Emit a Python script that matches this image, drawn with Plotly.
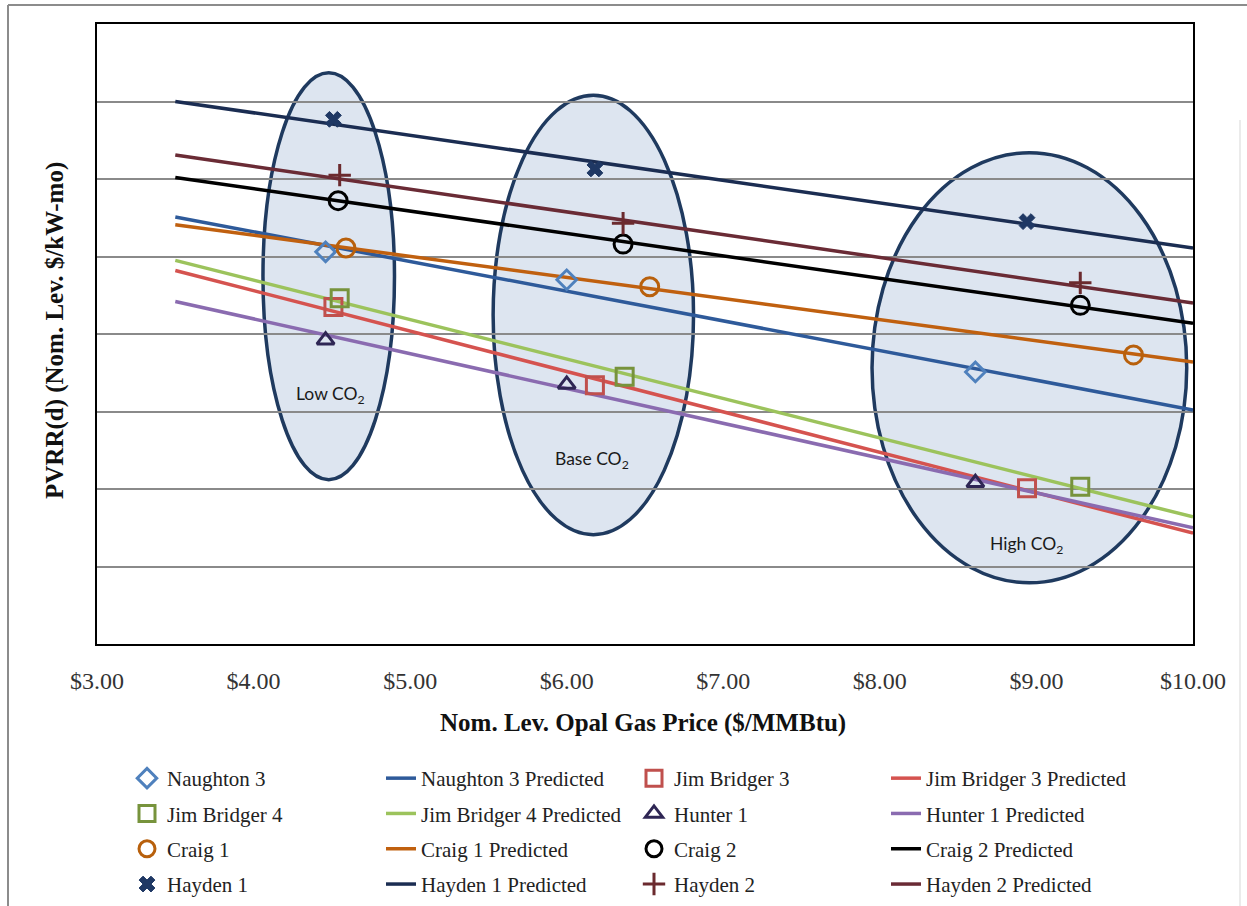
import plotly.graph_objects as go

W, H = 1247, 906
PL, PR, PT, PB = 97, 1193, 24, 644  # plot area in px

# ---------------- data ----------------
x_ticks = [3, 4, 5, 6, 7, 8, 9, 10]
x_ticktext = ["$3.00", "$4.00", "$5.00", "$6.00", "$7.00", "$8.00", "$9.00", "$10.00"]

pred_x = [3.5, 10.0]
pred_naughton3 = [5.51, 3.02]
pred_jb3 = [4.82, 1.43]
pred_jb4 = [4.95, 1.64]
pred_hunter1 = [4.42, 1.50]
pred_craig1 = [5.41, 3.64]
pred_craig2 = [6.02, 4.14]
pred_hayden1 = [7.00, 5.11]
pred_hayden2 = [6.31, 4.40]

obs_naughton3_x = [4.46, 6.00, 8.61]
obs_naughton3_y = [5.06, 4.70, 3.51]
obs_jb3_x = [4.51, 6.18, 8.94]
obs_jb3_y = [4.35, 3.34, 2.01]
obs_jb4_x = [4.55, 6.37, 9.28]
obs_jb4_y = [4.46, 3.45, 2.03]
obs_hunter1_x = [4.46, 6.00, 8.61]
obs_hunter1_y = [3.92, 3.35, 2.08]
obs_craig1_x = [4.59, 6.53, 9.62]
obs_craig1_y = [5.11, 4.61, 3.73]
obs_craig2_x = [4.54, 6.36, 9.28]
obs_craig2_y = [5.72, 5.16, 4.37]
obs_hayden1_x = [4.51, 6.18, 8.94]
obs_hayden1_y = [6.77, 6.13, 5.45]
obs_hayden2_x = [4.55, 6.36, 9.28]
obs_hayden2_y = [6.05, 5.43, 4.66]

scenario_labels = ["Low CO<sub>2</sub>", "Base CO<sub>2</sub>", "High CO<sub>2</sub>"]
scenario_x0 = [4.06, 5.53, 7.95]
scenario_x1 = [4.90, 6.81, 9.96]
scenario_y0 = [2.12, 1.41, 0.79]
scenario_y1 = [7.37, 7.08, 6.34]
scenario_label_x = [4.49, 6.161, 8.939]
scenario_label_y = [3.21, 2.37, 1.28]

# ---------------- helpers ----------------
def px_x(p):
    return (p - PL) / (PR - PL)

def px_y(p):
    return (PB - p) / (PB - PT)

SERIF = "Liberation Serif"

fig = go.Figure()

def add_line(name, y, color, legend):
    fig.add_trace(go.Scatter(
        x=pred_x, y=y, mode="lines", name=name,
        line=dict(color=color, width=3.5),
        legend=legend, legendgroup=name, showlegend=True))

def add_markers(name, x, y, symbol, color, size, legend, lw=3):
    fig.add_trace(go.Scatter(
        x=x, y=y, mode="markers", name=name,
        marker=dict(symbol=symbol, size=size, color=color,
                    line=dict(color=color, width=lw)),
        legend=legend, legendgroup=name, showlegend=True))

# lines first (drawn underneath markers)
add_line("Naughton 3 Predicted", pred_naughton3, "#2e5a9a", "legend2")
add_line("Jim Bridger 4 Predicted", pred_jb4, "#9cc35c", "legend2")
add_line("Craig 1 Predicted", pred_craig1, "#c0600f", "legend2")
add_line("Hayden 1 Predicted", pred_hayden1, "#1b2d52", "legend2")
add_line("Jim Bridger 3 Predicted", pred_jb3, "#d5534f", "legend4")
add_line("Hunter 1 Predicted", pred_hunter1, "#8a6bb0", "legend4")
add_line("Craig 2 Predicted", pred_craig2, "#000000", "legend4")
add_line("Hayden 2 Predicted", pred_hayden2, "#6a2b35", "legend4")

add_markers("Jim Bridger 3", obs_jb3_x, obs_jb3_y, "square-open", "#c0504d", 17, "legend3")
add_markers("Naughton 3", obs_naughton3_x, obs_naughton3_y, "diamond-open", "#4f81bd", 15, "legend")
add_markers("Jim Bridger 4", obs_jb4_x, obs_jb4_y, "square-open", "#77933c", 17, "legend")
add_markers("Craig 1", obs_craig1_x, obs_craig1_y, "circle-open", "#b8600c", 18, "legend")
add_markers("Hayden 1", obs_hayden1_x, obs_hayden1_y, "x", "#1f3864", 14, "legend", lw=1)
add_markers("Hunter 1", obs_hunter1_x, obs_hunter1_y, "triangle-up-open", "#2e2654", 15, "legend3")
add_markers("Craig 2", obs_craig2_x, obs_craig2_y, "circle-open", "#000000", 18, "legend3")
add_markers("Hayden 2", obs_hayden2_x, obs_hayden2_y, "cross-thin-open", "#6b2a2e", 16, "legend3")

# ---------------- ellipses & labels ----------------
shapes = []
for i in range(len(scenario_labels)):
    shapes.append(dict(type="circle", xref="x", yref="y", layer="below",
                       x0=scenario_x0[i], x1=scenario_x1[i],
                       y0=scenario_y0[i], y1=scenario_y1[i],
                       fillcolor="#dde5f0", line=dict(color="#1f3a5f", width=3.5)))

# outer frame lines
shapes.append(dict(type="line", xref="paper", yref="paper",
                   x0=px_x(8), x1=px_x(1247), y0=px_y(5), y1=px_y(5),
                   line=dict(color="#8c8c8c", width=2)))
shapes.append(dict(type="line", xref="paper", yref="paper",
                   x0=px_x(8), x1=px_x(8), y0=px_y(5), y1=px_y(906),
                   line=dict(color="#8c8c8c", width=2)))
shapes.append(dict(type="line", xref="paper", yref="paper",
                   x0=px_x(1240), x1=px_x(1240), y0=px_y(120), y1=px_y(906),
                   line=dict(color="#e4e4e4", width=1.5)))

annotations = []
for i in range(len(scenario_labels)):
    annotations.append(dict(x=scenario_label_x[i], y=scenario_label_y[i], xref="x", yref="y",
                            xanchor="center", yanchor="middle",
                            text=scenario_labels[i], showarrow=False,
                            font=dict(family="Lato", size=17.5, color="#1a1a1a")))

annotations.append(dict(x=px_x(643), y=px_y(723), xref="paper", yref="paper",
                        xanchor="center", yanchor="middle",
                        text="<b>Nom. Lev. Opal Gas Price ($/MMBtu)</b>", showarrow=False,
                        font=dict(family=SERIF, size=25, color="#111111")))
annotations.append(dict(x=px_x(55), y=px_y(331), xref="paper", yref="paper",
                        xanchor="center", yanchor="middle",
                        text="<b>PVRR(d) (Nom. Lev. $/kW-mo)</b>", showarrow=False, textangle=-90,
                        font=dict(family=SERIF, size=25, color="#111111")))

legend_common = dict(orientation="v", xref="container", yref="container",
                     xanchor="left", yanchor="top", bgcolor="rgba(0,0,0,0)",
                     borderwidth=0, tracegroupgap=5,
                     font=dict(family=SERIF, size=21, color="#222222"))
leg_y = 1 - 758 / H

fig.update_layout(
    width=W, height=H,
    margin=dict(l=PL, r=W - PR, t=PT, b=H - PB, autoexpand=False),
    paper_bgcolor="white", plot_bgcolor="white",
    xaxis=dict(range=[3, 10], tickvals=x_ticks, ticktext=x_ticktext,
               showgrid=False, zeroline=False, showline=True, mirror=True,
               linecolor="#000000", linewidth=2, ticks="", ticklabelstandoff=14,
               automargin=False,
               tickfont=dict(family=SERIF, size=24, color="#333333")),
    yaxis=dict(range=[0, 8], tickvals=[1, 2, 3, 4, 5, 6, 7], showticklabels=False,
               showgrid=True, gridcolor="#8a8a8a", gridwidth=2, zeroline=False,
               automargin=False,
               showline=True, mirror=True, linecolor="#000000", linewidth=2, ticks=""),
    shapes=shapes,
    annotations=annotations,
    legend=dict(x=127 / W, y=leg_y, **legend_common),
    legend2=dict(x=381 / W, y=leg_y, **legend_common),
    legend3=dict(x=634 / W, y=leg_y, **legend_common),
    legend4=dict(x=886 / W, y=leg_y, **legend_common),
)

fig.write_html("out.html")
